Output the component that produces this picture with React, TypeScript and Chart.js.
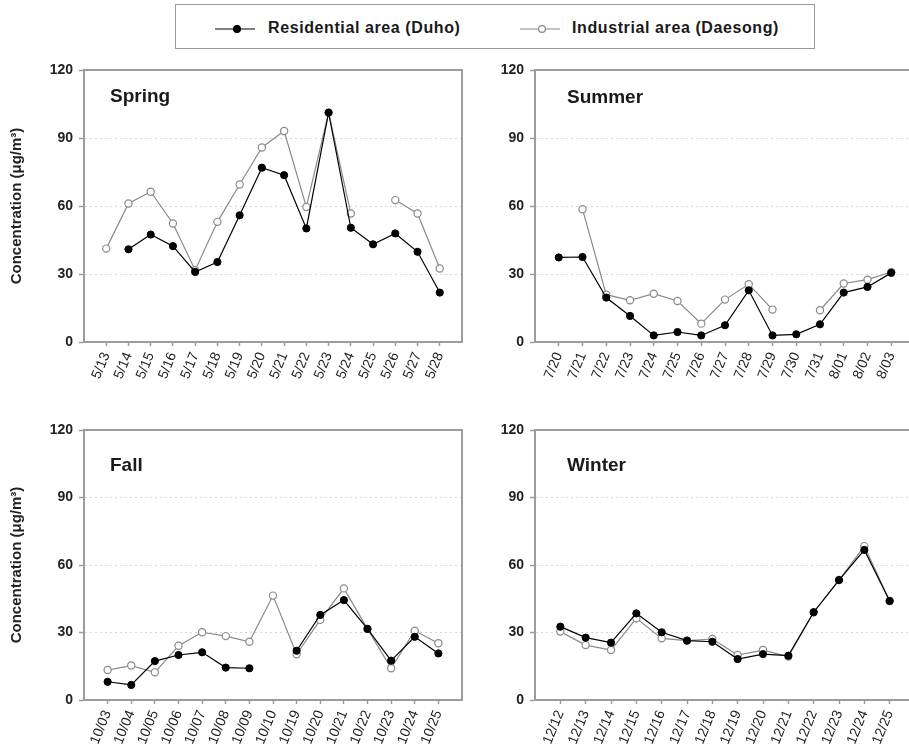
import React, { useEffect, useRef } from "react";
import { Chart, registerables } from "chart.js";

Chart.register(...registerables);

// ---------------- data ----------------
const springLabels = ["5/13", "5/14", "5/15", "5/16", "5/17", "5/18", "5/19", "5/20", "5/21", "5/22", "5/23", "5/24", "5/25", "5/26", "5/27", "5/28"];
const springResidential = [null, 40.9, 47.4, 42.3, 30.9, 35.3, 55.9, 76.9, 73.6, 50.1, 101.2, 50.4, 43.1, 47.9, 39.8, 21.8];
const springIndustrial = [41.2, 61.1, 66.3, 52.3, 31.7, 53.0, 69.5, 85.8, 93.1, 59.6, 101.2, 56.7, null, 62.6, 56.7, 32.4];

const summerLabels = ["7/20", "7/21", "7/22", "7/23", "7/24", "7/25", "7/26", "7/27", "7/28", "7/29", "7/30", "7/31", "8/01", "8/02", "8/03"];
const summerResidential = [37.3, 37.5, 19.6, 11.5, 2.9, 4.4, 2.9, 7.4, 22.8, 2.9, 3.4, 7.8, 21.8, 24.3, 30.5];
const summerIndustrial = [null, 58.6, 20.9, 18.4, 21.3, 18.1, 8.1, 18.7, 25.5, 14.3, null, 14.0, 25.8, 27.5, 30.9];

const fallLabels = ["10/03", "10/04", "10/05", "10/06", "10/07", "10/08", "10/09", "10/10", "10/19", "10/20", "10/21", "10/22", "10/23", "10/24", "10/25"];
const fallResidential = [8.1, 6.7, 17.3, 20.0, 21.2, 14.4, 14.1, null, 21.9, 37.8, 44.4, 31.6, 17.5, 28.1, 20.7];
const fallIndustrial = [13.3, 15.3, 12.3, 24.1, 30.1, 28.4, 25.9, 46.4, 20.3, 35.6, 49.6, 31.6, 14.1, 30.8, 25.2];

const winterLabels = ["12/12", "12/13", "12/14", "12/15", "12/16", "12/17", "12/18", "12/19", "12/20", "12/21", "12/22", "12/23", "12/24", "12/25"];
const winterResidential = [32.6, 27.7, 25.5, 38.5, 30.1, 26.4, 25.9, 18.2, 20.4, 19.7, 39.0, 53.3, 66.7, 44.0];
const winterIndustrial = [30.4, 24.4, 22.2, 36.3, 27.4, 26.4, 27.1, 20.0, 22.2, 19.3, 39.0, 53.3, 68.4, 44.0];

const yTicks = [0, 30, 60, 90, 120];
const seriesNames = ["Residential area (Duho)", "Industrial area (Daesong)"];
const yTitle = "Concentration (μg/m³)";

// ---------------- styling ----------------
const AXIS_GRAY = "#9c9c9c";
const IND_GRAY = "#8a8a8a";
const FONT = "Arial, 'Liberation Sans', sans-serif";

type PanelProps = {
  title: string;
  labels: string[];
  residential: (number | null)[];
  industrial: (number | null)[];
  left: number;
  top: number;
  width: number;
  height: number;
  yWidth: number;
  xHeight: number;
  padTop: number;
  padRight: number;
  showYTitle: boolean;
  titleDX: number;
  titleDY: number;
};

function Panel(p: PanelProps) {
  const ref = useRef<HTMLCanvasElement | null>(null);
  useEffect(() => {
    if (!ref.current) return;
    const n = p.labels.length;
    const framePlugin = {
      id: "frame" + p.title,
      beforeDatasetsDraw(chart: any) {
        const { ctx, chartArea } = chart;
        ctx.save();
        ctx.strokeStyle = AXIS_GRAY;
        ctx.lineWidth = 2;
        ctx.beginPath();
        ctx.moveTo(chartArea.left, chartArea.top);
        ctx.lineTo(chartArea.right, chartArea.top);
        ctx.lineTo(chartArea.right, chartArea.bottom);
        ctx.stroke();
        ctx.restore();
      },
      afterDraw(chart: any) {
        const { ctx, chartArea } = chart;
        ctx.save();
        ctx.fillStyle = "#1a1a1a";
        ctx.font = "bold 19px " + FONT;
        ctx.textBaseline = "alphabetic";
        ctx.textAlign = "left";
        ctx.fillText(p.title, chartArea.left + p.titleDX, chartArea.top + p.titleDY);
        ctx.restore();
      },
    };
    const chart = new Chart(ref.current, {
      type: "line",
      data: {
        datasets: [
          {
            label: seriesNames[0],
            data: p.residential.map((v, i) => ({ x: i, y: v })) as any,
            borderColor: "#000",
            borderWidth: 1.2,
            pointBackgroundColor: "#000",
            pointBorderColor: "#000",
            pointBorderWidth: 1,
            pointRadius: 3.6,
            tension: 0,
            spanGaps: false,
          },
          {
            label: seriesNames[1],
            data: p.industrial.map((v, i) => ({ x: i, y: v })) as any,
            borderColor: IND_GRAY,
            borderWidth: 1.2,
            pointBackgroundColor: "#fff",
            pointBorderColor: IND_GRAY,
            pointBorderWidth: 1.2,
            pointRadius: 3.6,
            tension: 0,
            spanGaps: false,
          },
        ],
      },
      options: {
        responsive: false,
        animation: false,
        events: [],
        layout: { padding: { top: p.padTop, right: p.padRight, left: 0, bottom: 0 } },
        plugins: { legend: { display: false }, tooltip: { enabled: false } },
        scales: {
          x: {
            type: "linear",
            min: -1,
            max: n,
            afterBuildTicks: (s: any) => {
              s.ticks = p.labels.map((_, i) => ({ value: i }));
            },
            afterFit: (s: any) => {
              s.height = p.xHeight;
            },
            ticks: {
              autoSkip: false,
              minRotation: 68,
              maxRotation: 68,
              padding: 4,
              color: "#222",
              font: { family: FONT, size: 14 },
              callback: (v: any) => p.labels[v] ?? "",
            },
            grid: { drawOnChartArea: false, tickColor: AXIS_GRAY, tickLength: 4, tickWidth: 1.5 },
            border: { color: AXIS_GRAY, width: 2 },
          },
          y: {
            min: 0,
            max: 120,
            afterBuildTicks: (s: any) => {
              s.ticks = yTicks.map((v) => ({ value: v }));
            },
            afterFit: (s: any) => {
              s.width = p.yWidth;
            },
            ticks: {
              color: "#222",
              padding: 6,
              font: { family: FONT, size: 14, weight: "bold" },
            },
            grid: {
              color: (c: any) => (c.tick && (c.tick.value === 0 || c.tick.value === 120) ? "rgba(0,0,0,0)" : "#d6d6d6"),
              lineWidth: 1,
              tickColor: AXIS_GRAY,
              tickLength: 5,
              tickWidth: 1.5,
            },
            border: { color: AXIS_GRAY, width: 2, dash: [2, 3] },
            title: {
              display: p.showYTitle,
              text: yTitle,
              color: "#222",
              font: { family: FONT, size: 15, weight: "bold" },
              padding: { top: 8, bottom: 0 },
            },
          },
        },
      } as any,
      plugins: [framePlugin],
    });
    return () => chart.destroy();
  }, []);
  return (
    <canvas
      ref={ref}
      width={p.width}
      height={p.height}
      style={{ position: "absolute", left: p.left, top: p.top, width: p.width, height: p.height }}
    />
  );
}

function LegendMarker({ filled }: { filled: boolean }) {
  const c = filled ? "#000" : IND_GRAY;
  return (
    <svg width={40} height={10} style={{ display: "block" }}>
      <line x1={0} y1={5} x2={40} y2={5} stroke={c} strokeWidth={1.2} />
      <circle cx={22} cy={5} r={3.4} fill={filled ? "#000" : "#fff"} stroke={c} strokeWidth={1.2} />
    </svg>
  );
}

const legendText: React.CSSProperties = {
  position: "absolute",
  top: 19,
  fontSize: 16,
  fontWeight: "bold",
  letterSpacing: "0.6px",
  lineHeight: "18px",
  color: "#1a1a1a",
  whiteSpace: "nowrap",
};

export default function App() {
  return (
    <div
      style={{
        position: "fixed",
        left: 0,
        top: 0,
        width: 909,
        height: 751,
        overflow: "hidden",
        background: "#fff",
        fontFamily: FONT,
      }}
    >
      <div
        style={{
          position: "absolute",
          left: 175,
          top: 4,
          width: 640,
          height: 45,
          boxSizing: "border-box",
          border: "1px solid #9a9a9a",
        }}
      />
      <div style={{ position: "absolute", left: 215, top: 24 }}>
        <LegendMarker filled={true} />
      </div>
      <div style={{ ...legendText, left: 268 }}>{seriesNames[0]}</div>
      <div style={{ position: "absolute", left: 520, top: 24 }}>
        <LegendMarker filled={false} />
      </div>
      <div style={{ ...legendText, left: 572 }}>{seriesNames[1]}</div>

      <Panel title="Spring" labels={springLabels} residential={springResidential} industrial={springIndustrial}
        left={0} top={55} width={472} height={345} yWidth={84} xHeight={58} padTop={15} padRight={10}
        showYTitle={true} titleDX={26} titleDY={32} />
      <Panel title="Summer" labels={summerLabels} residential={summerResidential} industrial={summerIndustrial}
        left={470} top={55} width={455} height={345} yWidth={65} xHeight={58} padTop={15} padRight={10}
        showYTitle={false} titleDX={32} titleDY={33} />
      <Panel title="Fall" labels={fallLabels} residential={fallResidential} industrial={fallIndustrial}
        left={0} top={415} width={472} height={336} yWidth={84} xHeight={51} padTop={15} padRight={10}
        showYTitle={true} titleDX={26} titleDY={41} />
      <Panel title="Winter" labels={winterLabels} residential={winterResidential} industrial={winterIndustrial}
        left={470} top={415} width={455} height={336} yWidth={65} xHeight={51} padTop={15} padRight={10}
        showYTitle={false} titleDX={32} titleDY={41} />
    </div>
  );
}
